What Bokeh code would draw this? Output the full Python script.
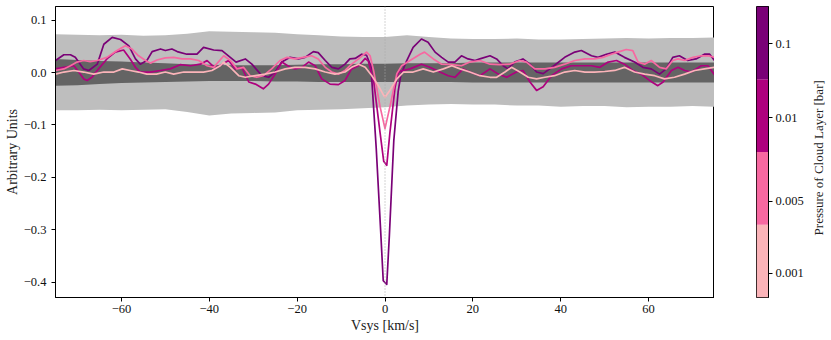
from math import pi
from bokeh.plotting import figure
from bokeh.models import FixedTicker, Span
from bokeh.layouts import row
from bokeh.core.properties import value
from bokeh.embed import file_html
from bokeh.resources import INLINE

FONT = "Liberation Serif"

# ---- data -------------------------------------------------------------
levels = ["0.001", "0.005", "0.01", "0.1"]
colors = ["#fbb4b9", "#f768a1", "#ae017e", "#7a0177"]
cbar_tick_pos = [0.33, 1.32, 2.47, 3.49]
cbar_label = "Pressure of Cloud Layer [bar]"

x_ticks = [-60, -40, -20, 0, 20, 40, 60]
x_tick_labels = ["\u221260", "\u221240", "\u221220", "0", "20", "40", "60"]
y_ticks = [-0.4, -0.3, -0.2, -0.1, 0.0, 0.1]
y_tick_labels = ["\u22120.4", "\u22120.3", "\u22120.2", "\u22120.1", "0.0", "0.1"]

band_v = [-75, -70, -65, -60, -55, -50, -45, -40, -35, -30, -25, -20, -15, -10, -5, 0,
          5, 10, 15, 20, 25, 30, 35, 40, 45, 50, 55, 60, 65, 70, 75]
light_hi = [0.073, 0.072, 0.071, 0.072, 0.070, 0.071, 0.074, 0.079, 0.078, 0.077, 0.076,
            0.073, 0.071, 0.069, 0.068, 0.068, 0.071, 0.068, 0.065, 0.064, 0.064, 0.065,
            0.063, 0.063, 0.064, 0.065, 0.066, 0.065, 0.066, 0.066, 0.067]
light_lo = [-0.072, -0.072, -0.071, -0.072, -0.071, -0.070, -0.075, -0.082, -0.078, -0.077,
            -0.076, -0.072, -0.071, -0.070, -0.068, -0.066, -0.063, -0.061, -0.060, -0.061,
            -0.061, -0.063, -0.063, -0.065, -0.064, -0.064, -0.066, -0.065, -0.065, -0.064,
            -0.065]
dark_hi = [0.026, 0.024, 0.022, 0.021, 0.019, 0.018, 0.016, 0.015, 0.014, 0.014, 0.014,
           0.015, 0.016, 0.016, 0.017, 0.017, 0.018, 0.018, 0.018, 0.019, 0.019, 0.019,
           0.019, 0.019, 0.019, 0.019, 0.019, 0.019, 0.019, 0.019, 0.019]
dark_lo = [-0.025, -0.024, -0.022, -0.020, -0.019, -0.018, -0.017, -0.016, -0.016, -0.016,
           -0.017, -0.017, -0.018, -0.018, -0.018, -0.018, -0.018, -0.018, -0.018, -0.019,
           -0.019, -0.019, -0.019, -0.019, -0.019, -0.019, -0.019, -0.019, -0.019, -0.019,
           -0.019]

# cloud layer at 0.1 bar
v_01 = [-75, -73.1, -71.6, -70.5, -68.6, -67.4, -65.5, -64, -62.1, -60.2, -58.3, -56.8,
        -55.7, -54.2, -53, -51.1, -50, -48.5, -47.3, -45.1, -42.8, -41.3, -39, -37.1,
        -34.8, -33.9, -31.8, -30.3, -28, -26.5, -25, -23.5, -21.6, -19.7, -18.2, -16.3,
        -15.2, -13.6, -12.1, -10.6, -9.1, -8, -6.8, -5.3, -4.2, -3.2, -2, -1, -0.4, 0.4,
        1, 2, 3, 3.6, 4.9, 6.4, 8.3, 9.8, 11.4, 12.9, 14.4, 15.9, 17.4, 18.9, 20.5, 21.6,
        23.9, 25.4, 26.9, 28, 29.5, 31.4, 33, 34.5, 36, 38.6, 40.9, 43.2, 44.7, 47, 48.5,
        50.4, 52.3, 54.5, 56.8, 58.7, 60.6, 62.5, 64, 65.5, 67, 68.9, 70.8, 72.7, 73.9, 75]
y_01 = [0.023, 0.034, 0.034, 0.029, 0.007, 0.004, 0.016, 0.054, 0.067, 0.063, 0.051, 0.026,
        0.016, 0.023, 0.040, 0.045, 0.042, 0.045, 0.040, 0.035, 0.035, 0.048, 0.043, 0.042,
        0.026, 0.020, 0.026, 0.016, -0.006, -0.009, 0.001, 0.020, 0.029, 0.026, 0.029, 0.040,
        0.038, 0.023, 0.010, 0.007, 0.016, 0.026, 0.027, 0.035, 0.033, 0.012, -0.144, -0.300,
        -0.397, -0.404, -0.310, -0.130, -0.036, -0.005, 0.022, 0.048, 0.064, 0.058, 0.039,
        0.029, 0.020, 0.020, 0.032, 0.026, 0.023, 0.026, 0.032, 0.026, 0.013, 0.007, 0.020,
        0.026, 0.016, 0.001, -0.002, 0.014, 0.029, 0.039, 0.042, 0.032, 0.029, 0.035, 0.039,
        0.029, 0.020, 0.010, 0.007, -0.003, 0.007, 0.029, 0.032, 0.023, 0.026, 0.035, 0.035,
        0.023]

# cloud layer at 0.01 bar
v_001 = [-75, -73.1, -70.8, -69.7, -68.6, -67.8, -66.7, -65.2, -63.3, -61.4, -59.5, -58,
         -56.8, -55.7, -53.4, -51.1, -48.9, -46.6, -44.3, -42, -40.5, -38.6, -37.1, -35.6,
         -34.1, -32.6, -31, -29.5, -27.7, -26.5, -25, -23.5, -21.6, -20.5, -18.9, -17.4,
         -15.9, -14.4, -12.5, -10.6, -9.1, -7.6, -6, -4.5, -3.8, -2.6, -1.1, -0.3, 0.4, 1.1,
         2.3, 3, 3.6, 5.7, 8.3, 10.2, 12.5, 14.4, 15.9, 17.8, 19.3, 21.6, 23.9, 25.8, 27.7,
         29.9, 31.4, 33, 34.5, 36, 37.9, 40.2, 42.4, 44.7, 47, 48.9, 50.8, 52.7, 54.5, 56.4,
         58.3, 60.2, 62.1, 63.3, 65.2, 66.7, 68.2, 69.7, 72, 73.5, 75]
y_001 = [0.007, 0.010, 0.013, 0.001, -0.012, -0.015, -0.009, 0.007, 0.026, 0.039, 0.043,
         0.026, 0.010, 0.001, 0.001, 0.004, 0.007, 0.015, 0.013, 0.016, 0.023, 0.008, 0.016,
         0.023, 0.007, 0.010, -0.018, -0.022, -0.031, -0.022, -0.003, 0.020, 0.010, 0.007,
         0.010, 0.020, 0.013, -0.012, -0.022, -0.023, -0.015, 0.007, 0.013, 0.027, 0.022,
         -0.015, -0.116, -0.169, -0.177, -0.116, -0.028, 0.000, 0.003, 0.007, 0.016, 0.010,
         0.001, -0.006, -0.009, 0.007, 0.001, -0.006, 0.007, -0.003, -0.009, 0.001, 0.004,
         -0.018, -0.034, -0.027, -0.006, 0.007, 0.013, 0.013, 0.013, 0.010, 0.020, 0.023,
         0.016, 0.004, -0.003, -0.015, -0.025, -0.018, 0.004, 0.010, 0.004, 0.001, 0.013,
         0.013, -0.004]

# cloud layer at 0.005 bar
v_0005 = [-75, -73.1, -71.6, -70.1, -68.6, -67.1, -65.5, -63.3, -61, -59.1, -57.6, -56.1,
          -54.5, -53.4, -51.9, -50, -48.1, -46.2, -44.3, -42.4, -40.5, -39, -36.7, -35.2,
          -33.7, -32.2, -30.7, -29.2, -27.7, -25.8, -23.9, -22.3, -20.5, -18.6, -16.7, -15.2,
          -13.6, -12.1, -10.6, -9.1, -7.6, -6, -4.2, -3.4, -2.6, -1.1, 0, 1.1, 2.7, 3.8, 5.7,
          8, 9, 11, 12.9, 15.2, 17.4, 19.3, 21.6, 23.9, 26.1, 28.4, 30.7, 32.2, 34.1, 36.4,
          38.6, 40.9, 43.2, 45.5, 47.7, 49.6, 51.5, 53, 54.9, 56.4, 57.6, 59.1, 60.6, 62.5,
          64, 65.5, 66.7, 68.2, 70.1, 72, 73.5, 75]
y_0005 = [0.004, 0.007, 0.013, 0.020, 0.023, 0.021, 0.023, 0.029, 0.042, 0.051, 0.045,
          0.032, 0.023, 0.018, 0.024, 0.028, 0.029, 0.026, 0.026, 0.023, 0.013, 0.010, 0.032,
          0.023, 0.007, 0.010, -0.006, -0.009, -0.006, 0.007, 0.023, 0.029, 0.026, 0.029,
          0.032, 0.026, 0.010, 0.001, -0.003, 0.004, 0.016, 0.026, 0.039, 0.032, 0.004,
          -0.066, -0.107, -0.066, -0.002, 0.013, 0.023, 0.035, 0.039, 0.026, 0.016, 0.015,
          0.013, 0.020, 0.023, 0.016, 0.015, 0.016, 0.023, 0.020, 0.007, 0.007, 0.010, 0.016,
          0.023, 0.026, 0.026, 0.029, 0.035, 0.039, 0.044, 0.042, 0.020, 0.016, 0.023, 0.010,
          0.007, 0.023, 0.026, 0.023, 0.029, 0.032, 0.032, 0.029]

# cloud layer at 0.001 bar
v_0001 = [-75, -73.1, -70.8, -68.6, -66.3, -64, -61.7, -59.8, -58, -56.1, -54.2, -52, -50,
          -48.1, -45.8, -43.6, -41.3, -39.4, -37.5, -36.7, -35.2, -33.3, -31.8, -29.5, -27.3,
          -25, -22.7, -20.5, -18.2, -15.9, -13.6, -11.4, -9.1, -7.6, -6, -4.5, -3, -1.5,
          -0.4, 0, 1.1, 2.7, 4.2, 6.4, 8.7, 11, 13.3, 15.2, 17.1, 19.3, 21.6, 23.9, 25.4,
          27.3, 28.8, 30.7, 32.6, 34.5, 36.4, 38.6, 40.9, 43.2, 45.5, 47.7, 50, 52.3, 54.5,
          56.8, 59.1, 61.4, 63.6, 65.9, 68.2, 70.5, 72.7, 75]
y_0001 = [-0.003, 0.001, 0.004, 0.001, -0.003, 0.001, 0.001, 0.007, 0.004, 0.001, -0.003,
          -0.003, 0.001, -0.003, 0.001, 0.001, 0.001, 0.004, 0.013, 0.020, 0.010, -0.006,
          -0.009, -0.006, -0.003, 0.001, 0.007, 0.010, 0.010, 0.007, 0.001, -0.003, 0.001,
          0.010, 0.016, 0.010, -0.006, -0.025, -0.042, -0.047, -0.034, -0.012, 0.001, 0.001,
          0.007, 0.001, 0.007, 0.013, 0.007, 0.001, -0.006, -0.009, -0.009, 0.001, 0.010,
          0.001, -0.009, -0.012, -0.009, -0.006, 0.001, 0.004, 0.001, 0.001, 0.002, 0.004,
          0.010, 0.001, -0.003, -0.006, -0.012, -0.009, -0.003, 0.004, 0.007, 0.010]

series = [(v_01, y_01, colors[3]), (v_001, y_001, colors[2]),
          (v_0005, y_0005, colors[1]), (v_0001, y_0001, colors[0])]

H = 338

# ---- main plot --------------------------------------------------------
p = figure(width=714, height=H, x_range=(-75, 75), y_range=(-0.429, 0.126),
           output_backend="svg", toolbar_location=None,
           min_border_left=55, min_border_right=0, min_border_top=6, min_border_bottom=40)
p.varea(x=band_v, y1=light_lo, y2=light_hi, fill_color="#bebebe")
p.varea(x=band_v, y1=dark_lo, y2=dark_hi, fill_color="#646464")
p.add_layout(Span(location=0, dimension="height", line_color="#a8a8a8",
                  line_dash="1 2", line_width=1))
for vx, vy, c in series:
    p.line(vx, vy, line_color=c, line_width=1.7, line_join="round")

p.xgrid.visible = False
p.ygrid.visible = False
p.xaxis.ticker = FixedTicker(ticks=x_ticks)
p.xaxis.major_label_overrides = dict(zip(x_ticks, x_tick_labels))
p.yaxis.ticker = FixedTicker(ticks=y_ticks)
p.yaxis.major_label_overrides = dict(zip(y_ticks, y_tick_labels))
p.xaxis.axis_label = "Vsys [km/s]"
p.yaxis.axis_label = "Arbitrary Units"
for ax in (p.xaxis[0], p.yaxis[0]):
    ax.axis_line_color = "black"
    ax.major_tick_line_color = "black"
    ax.minor_tick_line_color = None
    ax.major_tick_in = 0
    ax.major_tick_out = 4
    ax.major_label_text_font = FONT
    ax.major_label_text_font_size = "12.5px"
    ax.major_label_text_color = "#111111"
    ax.axis_label_text_font = FONT
    ax.axis_label_text_font_size = "14px"
    ax.axis_label_text_font_style = "normal"
    ax.axis_label_text_color = "#222222"
p.xaxis.major_label_standoff = 3
p.xaxis.axis_label_standoff = 2
p.yaxis.major_label_standoff = 5
p.yaxis.axis_label_standoff = 1
p.outline_line_color = "black"
p.outline_line_width = 1
p.background_fill_color = "white"
p.border_fill_color = "white"

# ---- colorbar ---------------------------------------------------------
cb = figure(width=92, height=H, x_range=(0, 1), y_range=(0, len(levels)),
            output_backend="svg", toolbar_location=None,
            x_axis_location=None, y_axis_location="right",
            min_border_left=42, min_border_right=35, min_border_top=6, min_border_bottom=41)
cb.quad(left=0, right=1, bottom=list(range(len(levels))),
        top=[i + 1 for i in range(len(levels))], fill_color=colors, line_color=None)
cb.xgrid.visible = False
cb.ygrid.visible = False
cax = cb.yaxis[0]
cax.ticker = FixedTicker(ticks=cbar_tick_pos)
cax.major_label_overrides = dict(zip(cbar_tick_pos, levels))
cax.axis_line_color = "black"
cax.major_tick_line_color = "black"
cax.minor_tick_line_color = None
cax.major_tick_in = 0
cax.major_tick_out = 4
cax.major_label_standoff = 3
cax.major_label_text_font = FONT
cax.major_label_text_font_size = "12.5px"
cax.major_label_text_color = "#111111"
cb.outline_line_color = "black"
cb.outline_line_width = 1
cb.border_fill_color = "white"

# ---- colorbar title (rotated, reading bottom to top) -------------------
lf = figure(width=24, height=H, x_range=(0, 1), y_range=(0, len(levels)),
            output_backend="svg", toolbar_location=None,
            x_axis_location=None, y_axis_location=None,
            min_border_left=0, min_border_right=0, min_border_top=6, min_border_bottom=41)
lf.xgrid.visible = False
lf.ygrid.visible = False
lf.outline_line_color = None
lf.text(x=[0.5], y=[1.92], text=[cbar_label], angle=pi / 2,
        text_align="center", text_baseline="middle", text_font=value(FONT),
        text_font_size="13px", text_color="#222222")

layout = row(p, cb, lf)
open("out.html", "w").write(file_html(layout, INLINE))
